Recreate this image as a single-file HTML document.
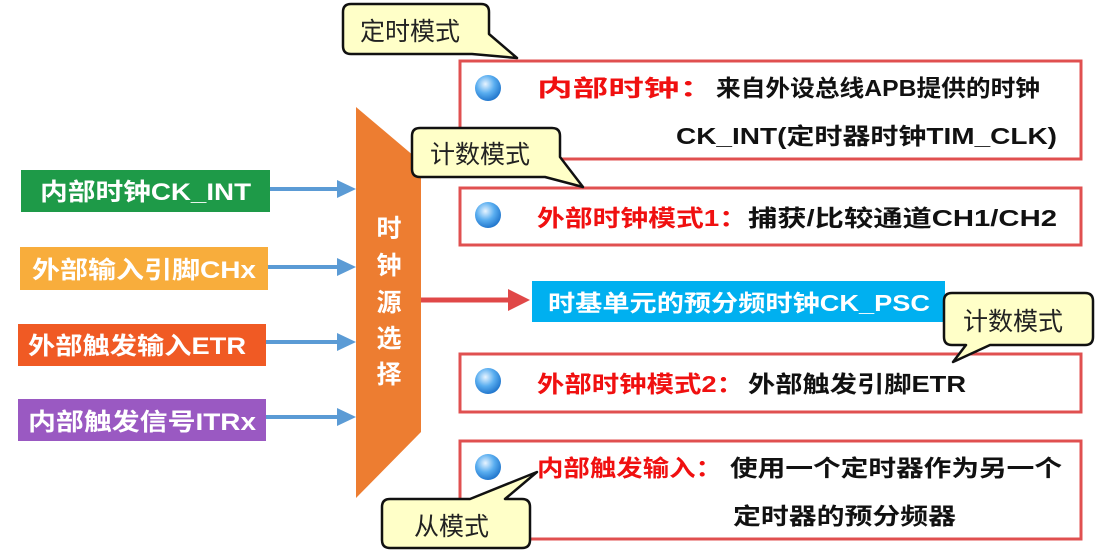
<!DOCTYPE html>
<html><head><meta charset="utf-8"><style>
html,body{margin:0;padding:0;background:#fff;}
svg{display:block;}
text{font-family:"Liberation Sans","Noto Sans CJK SC",sans-serif;}
</style></head><body>
<svg width="1097" height="559" viewBox="0 0 1097 559" xmlns="http://www.w3.org/2000/svg">
<defs>
<radialGradient id="bl" cx="0.4" cy="0.35" r="0.7">
<stop offset="0" stop-color="#e8f4ff"/><stop offset="0.5" stop-color="#5aaef0"/><stop offset="1" stop-color="#1a6fc8"/>
</radialGradient>
</defs>
<rect width="1097" height="559" fill="#fff"/>

<!-- left boxes -->
<rect x="21" y="170" width="249" height="42" fill="#1e9a48"/>
<text x="40" y="200" font-size="24" font-weight="bold" fill="#fff" textLength="211" lengthAdjust="spacingAndGlyphs">内部时钟CK_INT</text>
<rect x="20" y="247" width="248" height="43" fill="#f8ad3c"/>
<text x="32" y="278" font-size="24" font-weight="bold" fill="#fff" textLength="224" lengthAdjust="spacingAndGlyphs">外部输入引脚CHx</text>
<rect x="18" y="324" width="248" height="42" fill="#f05a24"/>
<text x="28" y="354" font-size="24" font-weight="bold" fill="#fff" textLength="218" lengthAdjust="spacingAndGlyphs">外部触发输入ETR</text>
<rect x="18" y="399" width="248" height="42" fill="#9a59c2"/>
<text x="28" y="430" font-size="24" font-weight="bold" fill="#fff" textLength="228" lengthAdjust="spacingAndGlyphs">内部触发信号ITRx</text>

<!-- blue arrows -->
<g stroke="#5b9bd5" stroke-width="4">
<line x1="270" y1="189" x2="340" y2="189"/><line x1="268" y1="267" x2="340" y2="267"/>
<line x1="266" y1="342" x2="340" y2="342"/><line x1="266" y1="417" x2="340" y2="417"/>
</g>
<g fill="#5b9bd5">
<path d="M337,180 L356,189 L337,198z"/><path d="M337,258 L356,267 L337,276z"/>
<path d="M337,333 L356,342 L337,351z"/><path d="M337,408 L356,417 L337,426z"/>
</g>

<!-- orange selector -->
<path d="M356,107 L421,162 L421,432 L356,498 z" fill="#ed7d31"/>
<g font-size="25" font-weight="bold" fill="#fff" text-anchor="middle">
<text x="389" y="237">时</text><text x="389" y="274">钟</text><text x="389" y="311">源</text><text x="389" y="347">选</text><text x="389" y="383">择</text>
</g>

<!-- red arrow -->
<line x1="421" y1="300" x2="512" y2="300" stroke="#e04848" stroke-width="5"/>
<path d="M508,289 L530,300 L508,311z" fill="#e04848"/>

<!-- blue bar -->
<rect x="532" y="281" width="413" height="41" fill="#00b0f0"/>
<text x="548" y="311" font-size="23" font-weight="bold" fill="#fff" textLength="382" lengthAdjust="spacingAndGlyphs">时基单元的预分频时钟CK_PSC</text>

<!-- red boxes -->
<g fill="none" stroke="#e05050" stroke-width="3">
<rect x="460" y="61" width="621" height="98"/>
<rect x="460" y="188" width="621" height="57"/>
<rect x="460" y="354" width="621" height="58"/>
<rect x="460" y="441" width="621" height="98"/>
</g>
<g fill="url(#bl)">
<circle cx="488" cy="88" r="13"/><circle cx="488" cy="215" r="13"/><circle cx="488" cy="381" r="13"/><circle cx="488" cy="467" r="13"/>
</g>
<g font-size="23" font-weight="bold">
<text x="537" y="96" fill="#f01010" textLength="178" lengthAdjust="spacingAndGlyphs">内部时钟：</text>
<text x="716" y="96" fill="#111" textLength="324" lengthAdjust="spacingAndGlyphs">来自外设总线APB提供的时钟</text>
<text x="676" y="144" fill="#111" textLength="381" lengthAdjust="spacingAndGlyphs">CK_INT(定时器时钟TIM_CLK)</text>
<text x="537" y="226" fill="#f01010" textLength="210" lengthAdjust="spacingAndGlyphs">外部时钟模式1：</text>
<text x="748" y="226" fill="#111" textLength="309" lengthAdjust="spacingAndGlyphs">捕获/比较通道CH1/CH2</text>
<text x="537" y="392" fill="#f01010" textLength="207" lengthAdjust="spacingAndGlyphs">外部时钟模式2：</text>
<text x="748" y="392" fill="#111" textLength="218" lengthAdjust="spacingAndGlyphs">外部触发引脚ETR</text>
<text x="537" y="476" fill="#f01010" textLength="185" lengthAdjust="spacingAndGlyphs">内部触发输入：</text>
<text x="730" y="476" fill="#111" textLength="332" lengthAdjust="spacingAndGlyphs">使用一个定时器作为另一个</text>
<text x="733" y="524" fill="#111" textLength="223" lengthAdjust="spacingAndGlyphs">定时器的预分频器</text>
</g>

<!-- callouts -->
<g fill="#ffffc8" stroke="#111" stroke-width="2.5" stroke-linejoin="round">
<path d="M351,4 H481 Q489,4 489,12 V34 L517,58 L472,54 H351 Q343,54 343,46 V12 Q343,4 351,4 z"/>
<path d="M420,128 H552 Q560,128 560,136 V157 L583,187 L545,177 H420 Q412,177 412,169 V136 Q412,128 420,128 z"/>
<path d="M952,293 H1085 Q1093,293 1093,301 V337 Q1093,345 1085,345 H990 L953,362 L966,345 H952 Q944,345 944,337 V301 Q944,293 952,293 z"/>
<path d="M390,499 H470 L537,472 L505,499 H522 Q530,499 530,507 V540 Q530,548 522,548 H390 Q382,548 382,540 V507 Q382,499 390,499 z"/>
</g>
<g font-size="25" fill="#222">
<text x="360" y="40">定时模式</text>
<text x="430" y="163">计数模式</text>
<text x="963" y="330">计数模式</text>
<text x="414" y="535">从模式</text>
</g>
</svg>
</body></html>
